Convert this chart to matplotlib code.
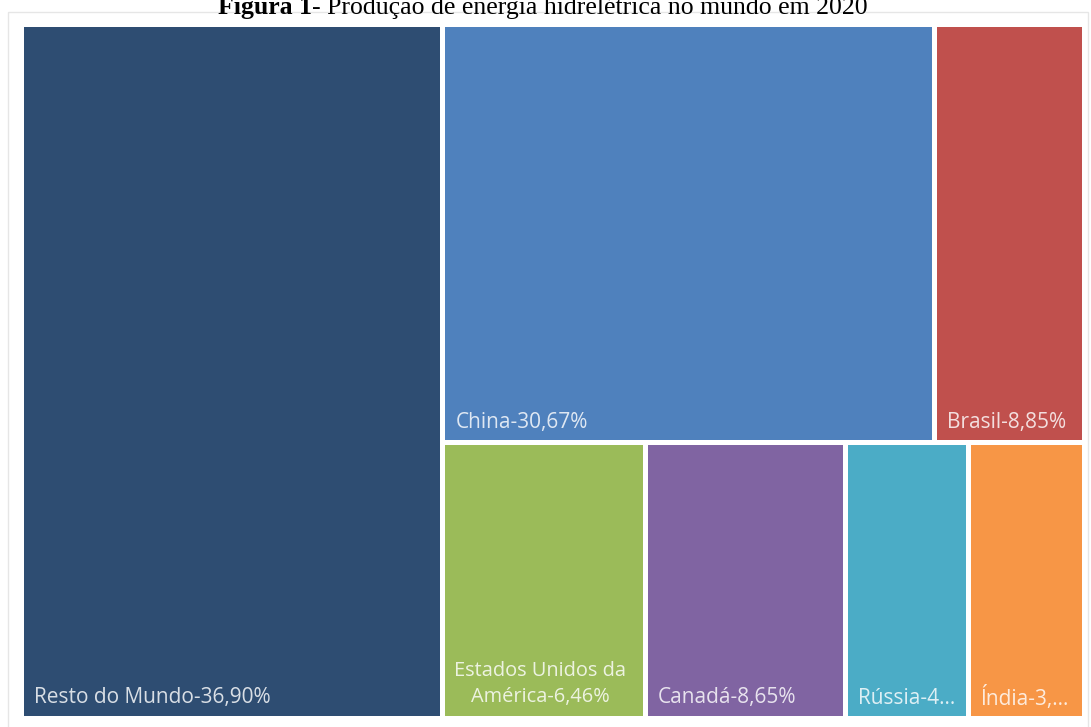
import matplotlib
matplotlib.use("Agg")
import matplotlib.pyplot as plt
from matplotlib.patches import Rectangle

# Dados do treemap (tamanhos lidos pelas áreas da figura)
paises = ['Resto do Mundo', 'China', 'Brasil', 'Estados Unidos da América',
          'Canadá', 'Rússia', 'Índia']
tamanhos = [39.65, 27.88, 8.51, 7.56, 7.47, 4.58, 4.35]
rotulos = ['Resto do Mundo-36,90%', 'China-30,67%', 'Brasil-8,85%',
           'Estados Unidos da\nAmérica-6,46%', 'Canadá-8,65%', 'Rússia-4...',
           'Índia-3,...']
cores = ['#2E4D72', '#4F81BD', '#C0504D', '#9BBB59', '#8064A2', '#4BACC6', '#F79646']

W, H = 1091, 727
fig = plt.figure(figsize=(W / 100, H / 100), dpi=100)
ax = fig.add_axes([0, 0, 1, 1])
ax.set_xlim(0, W)
ax.set_ylim(H, 0)
ax.axis('off')

# moldura clara em volta do gráfico
ax.add_patch(Rectangle((8, 12), 1080, 720, fill=False, edgecolor='#e6e6e6', lw=1))

# área útil e espaçamento entre os blocos
x0, y0, x1, y1 = 21.5, 24.5, 1084.5, 718.5
gap = 5

total = sum(tamanhos)
resto_w = (x1 - x0) * tamanhos[0] / total
linha_sup = tamanhos[1:3]
linha_inf = tamanhos[3:]
soma_rest = sum(tamanhos[1:])
h_sup = (y1 - y0) * sum(linha_sup) / soma_rest

caixas = [(x0, y0, resto_w, y1 - y0)]
xc = x0 + resto_w
for grupo, yy, hh in [(linha_sup, y0, h_sup), (linha_inf, y0 + h_sup, y1 - y0 - h_sup)]:
    larg_tot = x1 - (x0 + resto_w)
    s = sum(grupo)
    xx = xc
    for v in grupo:
        w = larg_tot * v / s
        caixas.append((xx, yy, w, hh))
        xx += w

fs = 15
for i, (bx, by, bw, bh) in enumerate(caixas):
    rx, ry = bx + gap / 2, by + gap / 2
    rw, rh = bw - gap, bh - gap
    ax.add_patch(Rectangle((rx, ry), rw, rh, facecolor=cores[i], edgecolor='none'))
    txt = rotulos[i]
    if '\n' in txt:
        ax.text(rx + 9, ry + rh - 9, txt, ha='left', va='bottom', color='white',
                alpha=0.82, fontsize=fs - 0.6, family='Open Sans', multialignment='center',
                linespacing=1.4)
    else:
        ax.text(rx + 10, ry + rh - 18, txt, ha='left', va='center', color='white',
                alpha=0.82, fontsize=fs, family='Open Sans')

# título (cortado no topo, como no original)
t1 = ax.text(218, 14, 'Figura 1', ha='left', va='baseline', fontsize=18.5,
             fontweight='bold', family='Liberation Serif')
ax.annotate('- Produção de energia hidrelétrica no mundo em 2020', xy=(1, 0),
            xycoords=t1, va='bottom', ha='left', fontsize=18.5, family='Liberation Serif')

fig.savefig('out.png', dpi=100)
